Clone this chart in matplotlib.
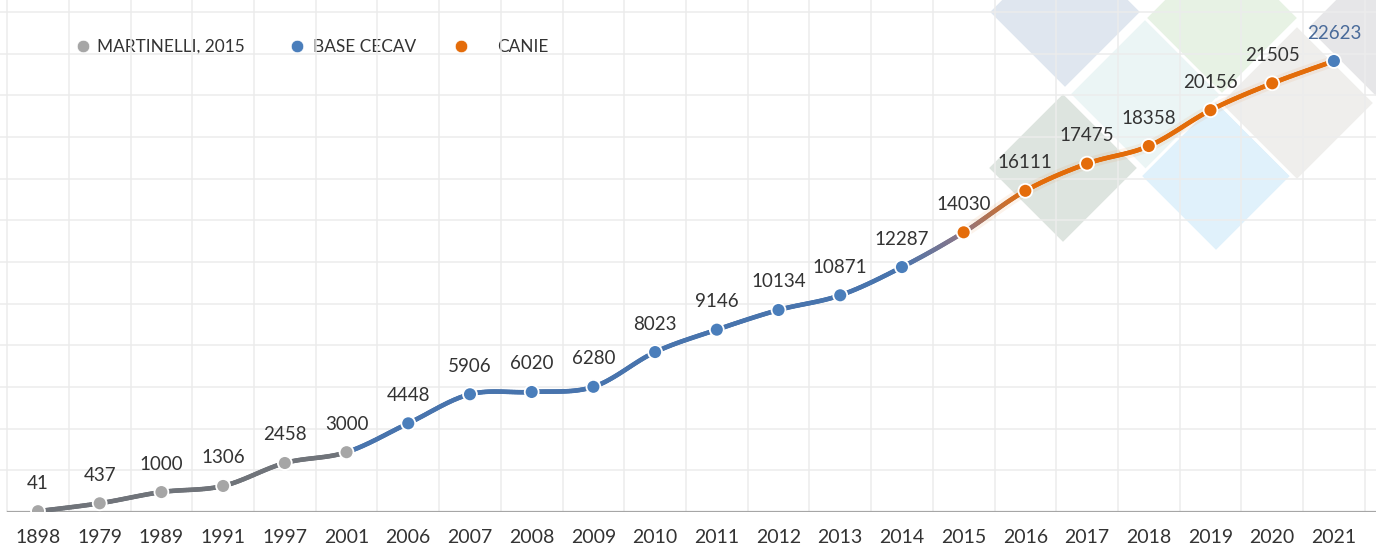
import numpy as np
import matplotlib
matplotlib.use('Agg')
import matplotlib.pyplot as plt
from matplotlib.patches import Polygon
from matplotlib.collections import LineCollection
from matplotlib.colors import to_rgb

plt.rcParams['font.family'] = ['Lato', 'DejaVu Sans']

# ---------------- data ----------------
years = ['1898', '1979', '1989', '1991', '1997', '2001', '2006', '2007', '2008',
         '2009', '2010', '2011', '2012', '2013', '2014', '2015', '2016', '2017',
         '2018', '2019', '2020', '2021']
values = [41, 437, 1000, 1306, 2458, 3000, 4448, 5906, 6020, 6280, 8023, 9146,
          10134, 10871, 12287, 14030, 16111, 17475, 18358, 20156, 21505, 22623]
sources = (['MARTINELLI, 2015'] * 6 + ['BASE CECAV'] * 9 + ['CANIE'] * 6
           + ['BASE CECAV'])
legend_labels = ['MARTINELLI, 2015', 'BASE CECAV', 'CANIE']

# ---------------- style ----------------
marker_col = {'MARTINELLI, 2015': '#a6a6a6', 'BASE CECAV': '#4a7ebb', 'CANIE': '#e46c0a'}
line_gray = '#70747a'
line_blue = '#4874ad'
line_orange = '#e36c09'
mid_col = '#8e7686'
text_col = '#333333'

W, H = 1376, 554
fig = plt.figure(figsize=(W / 100, H / 100), dpi=100)

# background decorative layer in pixel coordinates
bg = fig.add_axes([0, 0, 1, 1])
bg.set_xlim(0, W)
bg.set_ylim(H, 0)
bg.axis('off')
diamonds = [
    (1146, 94, 77, '#ebf5f5'),
    (1222, 18, 77, '#e7f2e4'),
    (1065, 12, 77, '#dfe6ef'),
    (1063, 168, 76, '#dde4df'),
    (1216, 176, 76, '#e0f1fb'),
    (1297, 103, 78, '#efeeec'),
    (1392, 28, 86, '#e6e6e8'),
]
for cx, cy, h, c in diamonds:
    bg.add_patch(Polygon([(cx - h, cy), (cx, cy - h), (cx + h, cy), (cx, cy + h)],
                         closed=True, facecolor=c, edgecolor='white', lw=2.2, zorder=1))

# main axes
step = 61.71
ax = fig.add_axes([0, 42 / H, 1, 512 / H])
ax.patch.set_alpha(0)
ymax = 512 / 0.019935
for s in ax.spines.values():
    s.set_visible(False)

n = len(values)
xs = np.arange(n)
ax.set_xticks(xs)
ax.set_xticklabels(years, fontsize=14, color=text_col)
ax.set_yticks([])
ax.set_xticks(np.arange(-0.5, n + 1, 1), minor=True)
ax.set_yticks(np.arange(2090, ymax, 2090), minor=True)
ax.grid(which='minor', color='#ececec', lw=1.1, zorder=0)
ax.tick_params(axis='x', which='major', length=0, pad=12)
ax.tick_params(which='minor', length=0)
ax.set_xlim(-38 / step, (W - 38) / step)
ax.set_ylim(0, ymax)
ax.axhline(0, xmin=8 / W, xmax=1, color='#a6a6a6', lw=1.6, zorder=2)

# smoothed line (Bezier through points, Excel style)
seg_cols = [(line_gray, line_gray)] * 5 + [(line_blue, line_blue)] * 9 \
    + [(line_blue, mid_col), (mid_col, line_orange)] + [(line_orange, line_orange)] * 5
P = np.column_stack([xs, np.array(values, float)])
t = np.linspace(0, 1, 40)
segs, cols = [], []
glow_segs = []
for i in range(n - 1):
    p0, p3 = P[i], P[i + 1]
    pm = P[i - 1] if i > 0 else P[i]
    pn = P[i + 2] if i + 2 < n else P[i + 1]
    c1 = p0 + (p3 - pm) / 6.0
    c2 = p3 - (pn - p0) / 6.0
    tt = t[:, None]
    pts = ((1 - tt) ** 3) * p0 + 3 * ((1 - tt) ** 2) * tt * c1 + 3 * (1 - tt) * tt ** 2 * c2 + tt ** 3 * p3
    ca, cb = np.array(to_rgb(seg_cols[i][0])), np.array(to_rgb(seg_cols[i][1]))
    for k in range(len(pts) - 1):
        segs.append(pts[k:k + 2])
        f = (k + 0.5) / (len(pts) - 1)
        cols.append(tuple(ca * (1 - f) + cb * f))
    if i >= 15:
        glow_segs.append(pts)
ax.add_collection(LineCollection(glow_segs, colors=line_orange, linewidths=8,
                                 alpha=0.08, capstyle='round', zorder=3),
                  autolim=False)
ax.add_collection(LineCollection(segs, colors=cols, linewidths=3.3,
                                 capstyle='round', zorder=3), autolim=False)

# markers
ax.scatter(xs, values, s=100, c=[marker_col[s] for s in sources],
           edgecolors='white', linewidths=1.3, zorder=4)
ax.set_xlim(-38 / step, (W - 38) / step)
ax.set_ylim(0, ymax)

# data labels
for i, v in enumerate(values):
    col = '#4a6b9a' if i == n - 1 else text_col
    ax.annotate(str(v), (i, v), xytext=(0, 28), textcoords='offset pixels',
                ha='center', va='center', fontsize=13.5, color=col, zorder=5)

# legend (manual, top-left)
leg_pos = [(83, 97), (297, 313), (461, 497)]
for lab, (mx, tx) in zip(legend_labels, leg_pos):
    bg.plot([mx], [46], 'o', ms=9, color=marker_col[lab], mec='white', mew=0.5, zorder=5)
    bg.text(tx, 47, lab, va='center', ha='left', fontsize=12.4, color=text_col, zorder=5)

fig.savefig('out.png', dpi=100)
